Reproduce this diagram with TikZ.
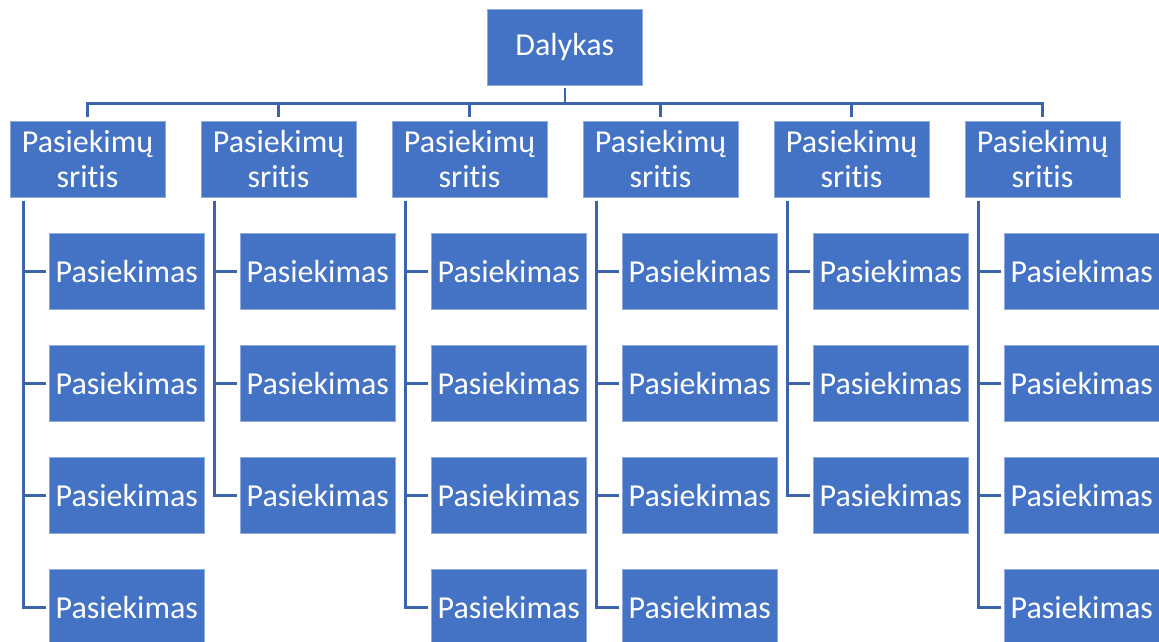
\documentclass[tikz,border=0pt]{standalone}
\usepackage{fontspec}
\setmainfont{Carlito}[Ligatures={NoCommon}]
\definecolor{boxfill}{HTML}{4472C4}
\definecolor{boxedge}{HTML}{8FAADC}
\definecolor{linecol}{HTML}{3B64AD}
\begin{document}
\begin{tikzpicture}[x=1pt,y=-1pt,
  box/.style={fill=boxfill,draw=boxedge,line width=0.8pt,text=white,
    minimum width=155pt,minimum height=75.6pt,inner sep=0pt,align=center,
    font=\fontsize{32}{35}\selectfont},
  conn/.style={draw=linecol,line width=2.4pt}]
\useasboundingbox (0,0) rectangle (1159,641);
\node[box] (top) at (564.8,47.2) {Dalykas};
\coordinate (bus) at (564.8,103.3);
\foreach \i/\n in {1/4,2/3,3/4,4/4,5/3,6/4} {
  \node[box] (a\i) at ({87.5+191*(\i-1)},159.5) {Pasiekimų\\sritis};
  \foreach \j in {1,...,\n} {
    \node[box] (c\i-\j) at ({126.8+191*(\i-1)},{271.3+112*(\j-1)}) {Pasiekimas};
    \draw[conn] ([xshift=14pt,yshift=-3pt]a\i.south west) |- ([xshift=-3pt]c\i-\j.west);
  }
}
\draw[conn] ([yshift=-3pt]top.south) -- (bus);
\draw[conn] ([yshift=4pt]a1.north) -- (a1.north |- bus) -- (a6.north |- bus) -- ([yshift=4pt]a6.north);
\foreach \i in {2,3,4,5} {
  \draw[conn] (a\i.north |- bus) -- ([yshift=4pt]a\i.north);
}
\end{tikzpicture}
\end{document}
